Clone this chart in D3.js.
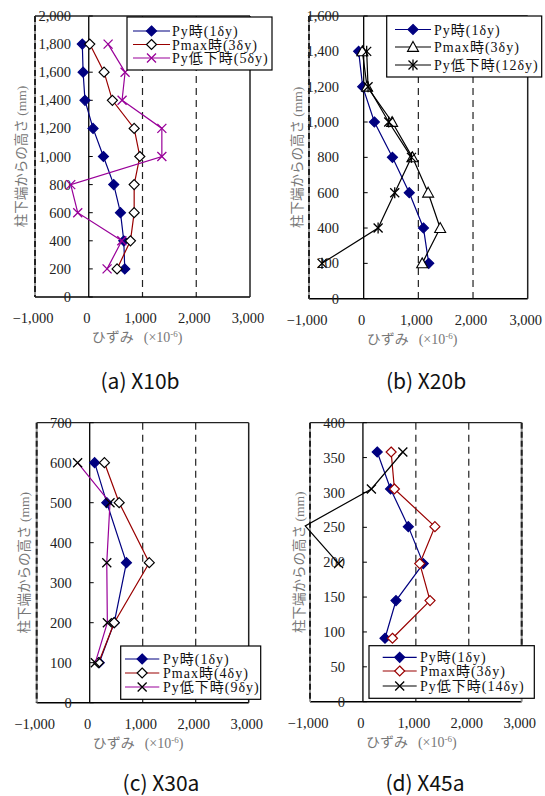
<!DOCTYPE html>
<html>
<head>
<meta charset="utf-8">
<script src="https://cdn.jsdelivr.net/npm/d3@7"></script>
<style>
  body { margin: 0; background: #fff; }
</style>
</head>
<body>
<svg id="chart" width="545" height="796"></svg>
<script>
'use strict'

const xTicks = [-1000, 0, 1000, 2000, 3000]
const dashedAt = [1000, 2000]

// (a) X10b
const heightsA = [1800, 1600, 1400, 1200, 1000, 800, 600, 400, 200]
const pyA = [-120, -105, -70, 80, 273, 465, 590, 652, 670]
const pmaxA = [19, 285, 440, 845, 950, 845, 845, 776, 527]
const dropA = [360, 676, 620, 1360, 1360, -335, -205, 615, 341]
const legendA = ['Py時(1δy)', 'Pmax時(3δy)', 'Py低下時(5δy)']

// (b) X20b
const heightsB = [1400, 1200, 1000, 800, 600, 400, 200]
const pyB = [-92, -18, 196, 526, 834, 1093, 1190]
const pmaxB = [-24, 62, 520, 892, 1179, 1399, 1070]
const dropB = [55, 80, 458, 874, 568, 264, -762]
const legendB = ['Py時(1δy)', 'Pmax時(3δy)', 'Py低下時(12δy)']

// (c) X30a
const heightsC = [600, 500, 350, 200, 100]
const pyC = [93, 322, 693, 463, 180]
const pmaxC = [278, 556, 1124, 463, 167]
const dropC = [-228, 383, 322, 333, 106]
const legendC = ['Py時(1δy)', 'Pmax時(4δy)', 'Py低下時(9δy)']

// (d) X45a
const heightsD = [358, 305, 251, 198, 145, 91]
const pyD = [270, 522, 858, 1140, 625, 417]
const pmaxD = [533, 595, 1360, 1074, 1268, 558]
const heightsDropD = [358, 305, 252, 198]
const dropD = [754, 160, -1090, -460]
const legendD = ['Py時(1δy)', 'Pmax時(3δy)', 'Py低下時(14δy)']

const NAVY = '#000080', RED = '#990000', PURPLE = '#990099', BLACK = '#000'

const panels = [
  {
    caption: '(a) X10b', yMax: 2000, yStep: 200,
    box: { left: 35, right: 250, top: 16, bottom: 297 },
    labelRight: 71, yTitleX: 21, captionX: 140, captionY: 389,
    series: [
      { h: heightsA, v: pyA, line: NAVY, marker: 'diamond', fill: NAVY, stroke: NAVY },
      { h: heightsA, v: pmaxA, line: RED, marker: 'diamond', fill: '#fff', stroke: BLACK },
      { h: heightsA, v: dropA, line: PURPLE, marker: 'x', fill: 'none', stroke: PURPLE }
    ],
    legend: legendA,
    lg: { x: 127, y: 17, w: 145, h: 53, rows: [31, 44.5, 58], x1: 133, x2: 170, tx: 172 }
  },
  {
    caption: '(b) X20b', yMax: 1600, yStep: 200,
    box: { left: 309, right: 527.7, top: 16, bottom: 298.7 },
    labelRight: 339, yTitleX: 297, captionX: 426, captionY: 389,
    series: [
      { h: heightsB, v: pyB, line: NAVY, marker: 'diamond', fill: NAVY, stroke: NAVY },
      { h: heightsB, v: pmaxB, line: BLACK, marker: 'triangle', fill: '#fff', stroke: BLACK },
      { h: heightsB, v: dropB, line: BLACK, marker: 'star', fill: 'none', stroke: BLACK }
    ],
    legend: legendB,
    lg: { x: 386.7, y: 16, w: 155, h: 61, rows: [29.5, 47, 65], x1: 395, x2: 431, tx: 434 }
  },
  {
    caption: '(c) X30a', yMax: 700, yStep: 100,
    box: { left: 36.7, right: 248.7, top: 422.7, bottom: 702.7 },
    labelRight: 71.7, yTitleX: 24, captionX: 161, captionY: 791,
    series: [
      { h: heightsC, v: pyC, line: NAVY, marker: 'diamond', fill: NAVY, stroke: NAVY },
      { h: heightsC, v: pmaxC, line: RED, marker: 'diamond', fill: '#fff', stroke: BLACK },
      { h: heightsC, v: dropC, line: PURPLE, marker: 'x', fill: 'none', stroke: BLACK }
    ],
    legend: legendC,
    lg: { x: 120.7, y: 646, w: 140, h: 53.3, rows: [659, 673, 687], x1: 125, x2: 159.3, tx: 163 }
  },
  {
    caption: '(d) X45a', yMax: 400, yStep: 50,
    box: { left: 310, right: 521.7, top: 422.7, bottom: 701.7 },
    labelRight: 345, yTitleX: 299, captionX: 425, captionY: 791,
    dashedRight: true,
    series: [
      { h: heightsD, v: pyD, line: NAVY, marker: 'diamond', fill: NAVY, stroke: NAVY },
      { h: heightsD, v: pmaxD, line: RED, marker: 'diamond', fill: '#fff', stroke: RED },
      { h: heightsDropD, v: dropD, line: BLACK, marker: 'x', fill: 'none', stroke: BLACK }
    ],
    legend: legendD,
    lg: { x: 369, y: 645.7, w: 165.3, h: 52.6, rows: [657.3, 671, 686], x1: 382.7, x2: 416.7, tx: 420 }
  }
]

const NUM_FONT = '"Liberation Serif", "Times New Roman", serif'
const JP_FONT = '"Liberation Serif", "Noto Sans CJK JP", serif'

const svg = d3.select('#chart')

panels.forEach(drawPanel)

function drawPanel (p) {
  const b = p.box
  const xScale = d3.scaleLinear().domain([-1000, 3000]).range([b.left, b.right])
  const yScale = d3.scaleLinear().domain([0, p.yMax]).range([b.bottom, b.top])
  const g = svg.append('g')

  // vertical reference lines
  g.append('line')
    .attr('x1', xScale(0)).attr('x2', xScale(0))
    .attr('y1', b.top).attr('y2', b.bottom)
    .attr('stroke', '#000').attr('stroke-width', 1.3)
  dashedAt.forEach(v => {
    g.append('line')
      .attr('x1', xScale(v)).attr('x2', xScale(v))
      .attr('y1', b.top).attr('y2', b.bottom)
      .attr('stroke', '#222').attr('stroke-width', 1.2)
      .attr('stroke-dasharray', '7,5')
  })

  // frame
  g.append('line').attr('x1', b.left).attr('x2', b.right).attr('y1', b.top).attr('y2', b.top)
    .attr('stroke', '#222').attr('stroke-width', 1.3)
  g.append('line').attr('x1', b.left).attr('x2', b.right).attr('y1', b.bottom).attr('y2', b.bottom)
    .attr('stroke', '#000').attr('stroke-width', 1.6)
  drawBorder(g, b.left, b.top, b.bottom, true)
  drawBorder(g, b.right, b.top, b.bottom, !!p.dashedRight)

  // y ticks on the zero line + labels
  const yTicks = d3.range(0, p.yMax + 1, p.yStep)
  g.selectAll('.ytick')
    .data(yTicks)
    .enter()
    .append('line')
    .attr('x1', xScale(0)).attr('x2', xScale(0) + 4)
    .attr('y1', d => yScale(d)).attr('y2', d => yScale(d))
    .attr('stroke', '#000')
  g.selectAll('.ylab')
    .data(yTicks)
    .enter()
    .append('text')
    .attr('x', p.labelRight)
    .attr('y', d => yScale(d))
    .attr('dy', '0.35em')
    .attr('text-anchor', 'end')
    .style('font-family', NUM_FONT)
    .style('font-size', '14.5px')
    .attr('fill', '#222')
    .text(d => d3.format(',')(d))

  // x labels
  g.selectAll('.xlab')
    .data(xTicks)
    .enter()
    .append('text')
    .attr('x', d => xScale(d) - 2)
    .attr('y', b.bottom + 26)
    .attr('text-anchor', 'middle')
    .style('font-family', NUM_FONT)
    .style('font-size', '14.5px')
    .attr('fill', '#222')
    .text(d => d3.format(',')(d))

  // x title
  const xt = g.append('text')
    .attr('x', xScale(0) + 3)
    .attr('y', b.bottom + 45)
    .style('font-family', JP_FONT)
    .style('font-size', '14px')
    .attr('fill', '#777')
  xt.append('tspan').text('ひずみ')
  xt.append('tspan').attr('dx', 10).text('(×10')
  xt.append('tspan').attr('dy', -5).style('font-size', '9px').text('-6')
  xt.append('tspan').attr('dy', 5).text(')')

  // y title
  g.append('text')
    .attr('transform', 'translate(' + p.yTitleX + ',' + ((b.top + b.bottom) / 2) + ') rotate(-90)')
    .attr('text-anchor', 'middle')
    .attr('dy', '0.35em')
    .style('font-family', JP_FONT)
    .style('font-size', '13.5px')
    .attr('fill', '#777')
    .text('柱下端からの高さ (mm)')

  // series
  p.series.forEach(s => {
    const pts = s.h.map((h, i) => ({ h: h, v: s.v[i] }))
    const line = d3.line().x(d => xScale(d.v)).y(d => yScale(d.h))
    g.append('path')
      .datum(pts)
      .attr('d', line)
      .attr('fill', 'none')
      .attr('stroke', s.line)
      .attr('stroke-width', 1.2)
    pts.filter(d => d.v >= -1000).forEach(d => {
      drawMarker(g, s, xScale(d.v), yScale(d.h))
    })
  })

  // legend
  const lg = p.lg
  g.append('rect')
    .attr('x', lg.x).attr('y', lg.y).attr('width', lg.w).attr('height', lg.h)
    .attr('fill', '#fff').attr('stroke', '#000').attr('stroke-width', 1.2)
  p.series.forEach((s, i) => {
    const y = lg.rows[i]
    g.append('line')
      .attr('x1', lg.x1).attr('x2', lg.x2).attr('y1', y).attr('y2', y)
      .attr('stroke', s.line).attr('stroke-width', 1.2)
    drawMarker(g, s, (lg.x1 + lg.x2) / 2, y)
    g.append('text')
      .attr('x', lg.tx).attr('y', y).attr('dy', '0.36em')
      .style('font-family', JP_FONT)
      .style('font-size', '14px')
      .style('letter-spacing', '1px')
      .attr('fill', '#111')
      .text(p.legend[i])
  })

  // caption: narrow gothic look, squeezed horizontally around its centre
  const cap = g.append('g')
    .attr('transform', 'translate(' + p.captionX + ',' + p.captionY + ')')
  const capText = cap.append('text')
    .attr('text-anchor', 'middle')
    .style('font-family', '"Noto Sans CJK JP", sans-serif')
    .style('font-size', '21px')
    .attr('fill', '#111')
    .text(p.caption)
  const w = capText.node().getComputedTextLength()
  if (w > 0) capText.attr('transform', 'scale(' + Math.min(1, 82 / w) + ',1)')
}

function drawBorder (g, x, y1, y2, dashed) {
  if (dashed) {
    g.append('line').attr('x1', x).attr('x2', x).attr('y1', y1).attr('y2', y2)
      .attr('stroke', '#999').attr('stroke-width', 2)
    g.append('line').attr('x1', x).attr('x2', x).attr('y1', y1).attr('y2', y2)
      .attr('stroke', '#222').attr('stroke-width', 2)
      .attr('stroke-dasharray', '6,3')
  } else {
    g.append('line').attr('x1', x).attr('x2', x).attr('y1', y1).attr('y2', y2)
      .attr('stroke', '#222').attr('stroke-width', 1.5)
  }
}

function drawMarker (g, s, x, y) {
  if (s.marker === 'diamond') {
    const r = 5
    g.append('path')
      .attr('d', `M${x},${y - r}L${x + r},${y}L${x},${y + r}L${x - r},${y}Z`)
      .attr('fill', s.fill).attr('stroke', s.stroke).attr('stroke-width', 1.2)
  } else if (s.marker === 'triangle') {
    const r = 5.5
    g.append('path')
      .attr('d', `M${x},${y - r}L${x + r},${y + r * 0.8}L${x - r},${y + r * 0.8}Z`)
      .attr('fill', s.fill).attr('stroke', s.stroke).attr('stroke-width', 1.1)
  } else {
    const r = 4.5
    g.append('path')
      .attr('d', `M${x - r},${y - r}L${x + r},${y + r}M${x - r},${y + r}L${x + r},${y - r}`)
      .attr('stroke', s.stroke).attr('stroke-width', 1.3)
    if (s.marker === 'star') {
      g.append('path')
        .attr('d', `M${x},${y - r - 1}L${x},${y + r + 1}`)
        .attr('stroke', s.stroke).attr('stroke-width', 1.3)
    }
  }
}
</script>
</body>
</html>
